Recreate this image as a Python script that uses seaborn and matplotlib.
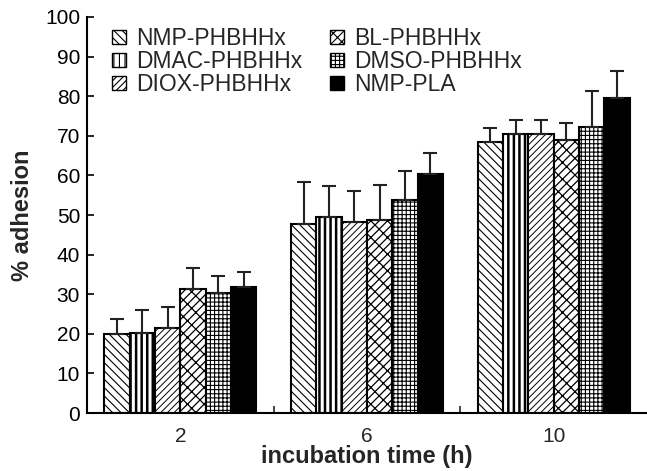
import warnings
warnings.filterwarnings("ignore")
import matplotlib
matplotlib.use("Agg")
import matplotlib.pyplot as plt
import matplotlib.hatch as mhatch
from matplotlib.path import Path
import seaborn as sns
import pandas as pd
import numpy as np

times = ["2", "6", "10"]
series = ["NMP-PHBHHx", "DMAC-PHBHHx", "DIOX-PHBHHx", "BL-PHBHHx", "DMSO-PHBHHx", "NMP-PLA"]
means = {
    "NMP-PHBHHx":  [19.9, 47.8, 68.5],
    "DMAC-PHBHHx": [20.2, 49.4, 70.5],
    "DIOX-PHBHHx": [21.4, 48.2, 70.5],
    "BL-PHBHHx":   [31.4, 48.7, 68.9],
    "DMSO-PHBHHx": [30.4, 53.9, 72.1],
    "NMP-PLA":     [31.9, 60.4, 79.5],
}
errors = {
    "NMP-PHBHHx":  [3.8, 10.5, 3.5],
    "DMAC-PHBHHx": [5.8, 7.8, 3.5],
    "DIOX-PHBHHx": [5.4, 7.9, 3.5],
    "BL-PHBHHx":   [5.1, 9.0, 4.3],
    "DMSO-PHBHHx": [4.3, 7.2, 9.3],
    "NMP-PLA":     [3.8, 5.3, 6.9],
}
yticks = list(range(0, 101, 10))

hatches = ["\\\\\\\\", "|||", "/////", "b", "++++", ""]
hatch_lw = [0.8, 1.8, 0.7, 0.9, 0.8, 0.8]
faces = ["white", "white", "white", "white", "white", "black"]


# custom diagonal "brick" hatch (character 'b')
class BrickHatch(mhatch.HatchPatternBase):
    def __init__(self, hatch, density):
        c = hatch.count("b")
        self.n = 12 * c
        if self.n:
            self.lines = list(range(-self.n - 1, self.n + 2))
            nseg = len(self.lines) + len(self.lines) * (self.n + 3)
        else:
            self.lines = []
            nseg = 0
        self.num_vertices = 2 * nseg

    def set_vertices_and_codes(self, vertices, codes):
        n = self.n
        segs = []
        for k in self.lines:
            segs.append(((k / n, 0.0), (k / n + 1.0, 1.0)))
        for k in self.lines:
            off = (k % 2) * 0.5 / n
            for j in range(-1, n + 2):
                t = j / n + off
                segs.append(((k / n + t, t), (k / n + t + 0.5 / n, t - 0.5 / n)))
        vertices[:] = np.array(segs, dtype=float).reshape(-1, 2)
        codes[0::2] = Path.MOVETO
        codes[1::2] = Path.LINETO


if BrickHatch not in mhatch._hatch_types:
    mhatch._hatch_types.append(BrickHatch)

rows = []
for s in series:
    for t, v in zip(times, means[s]):
        rows.append({"time": t, "series": s, "value": v})
df = pd.DataFrame(rows)

sns.set_style("ticks")
plt.rcParams["font.family"] = ["Liberation Sans", "DejaVu Sans"]
plt.rcParams["hatch.linewidth"] = 0.8
plt.rcParams["hatch.color"] = "black"

fig = plt.figure(figsize=(6.47, 4.71), dpi=100)
ax = fig.add_axes([0.1345, 0.123, 0.8655, 0.841])

sns.barplot(data=df, x="time", y="value", hue="series", order=times,
            hue_order=series, width=0.815, errorbar=None, ax=ax,
            edgecolor="black", linewidth=1.5, palette=["white"] * len(series))


def style_patch(p, h, fc, hl):
    p.set_hatch(h)
    p.set_facecolor(fc)
    p.set_edgecolor("black")
    if hasattr(p, "set_hatch_linewidth"):
        p.set_hatch_linewidth(hl)


for s, cont, h, fc, hl in zip(series, ax.containers, hatches, faces, hatch_lw):
    xs = []
    for p in cont.patches:
        style_patch(p, h, fc, hl)
        xs.append(p.get_x() + p.get_width() / 2)
    ax.errorbar(xs, means[s], yerr=[np.zeros(len(xs)), errors[s]], fmt="none",
                ecolor="#222222", elinewidth=1.5, capsize=4.7, capthick=1.5, zorder=1)

ax.set_ylim(0, 100)
ax.set_xlim(-0.5, 2.5)
ax.set_yticks(yticks)
ax.set_yticklabels([str(v) for v in yticks], fontsize=15)
ax.tick_params(axis="y", direction="in", length=5, width=1.2, colors="black", pad=5)
ax.tick_params(axis="x", which="major", length=0, labelsize=15, pad=10)
ax.set_xticks([0.5, 1.5], minor=True)
ax.tick_params(axis="x", which="minor", direction="in", length=5, width=1.2)
for side in ["top", "right"]:
    ax.spines[side].set_visible(False)
for side in ["left", "bottom"]:
    ax.spines[side].set_linewidth(1.5)
    ax.spines[side].set_color("black")

ax.set_xlabel("incubation time (h)", fontsize=17, fontweight="bold", labelpad=-1)
ax.set_ylabel("% adhesion", fontsize=17, fontweight="bold", labelpad=8)

handles, labels = ax.get_legend_handles_labels()
for hd, h, fc, hl in zip(handles, hatches, faces, hatch_lw):
    style_patch(hd, h, fc, hl)
    hd.set_linewidth(1.0)
ax.legend(handles, labels, ncol=2, loc="upper left", bbox_to_anchor=(0.045, 0.975),
          frameon=False, fontsize=16.5, handlelength=0.6, handleheight=0.6,
          handletextpad=0.45, columnspacing=1.2, labelspacing=0.0,
          borderaxespad=0.0, borderpad=0.0)

fig.savefig("out.png", dpi=100)
